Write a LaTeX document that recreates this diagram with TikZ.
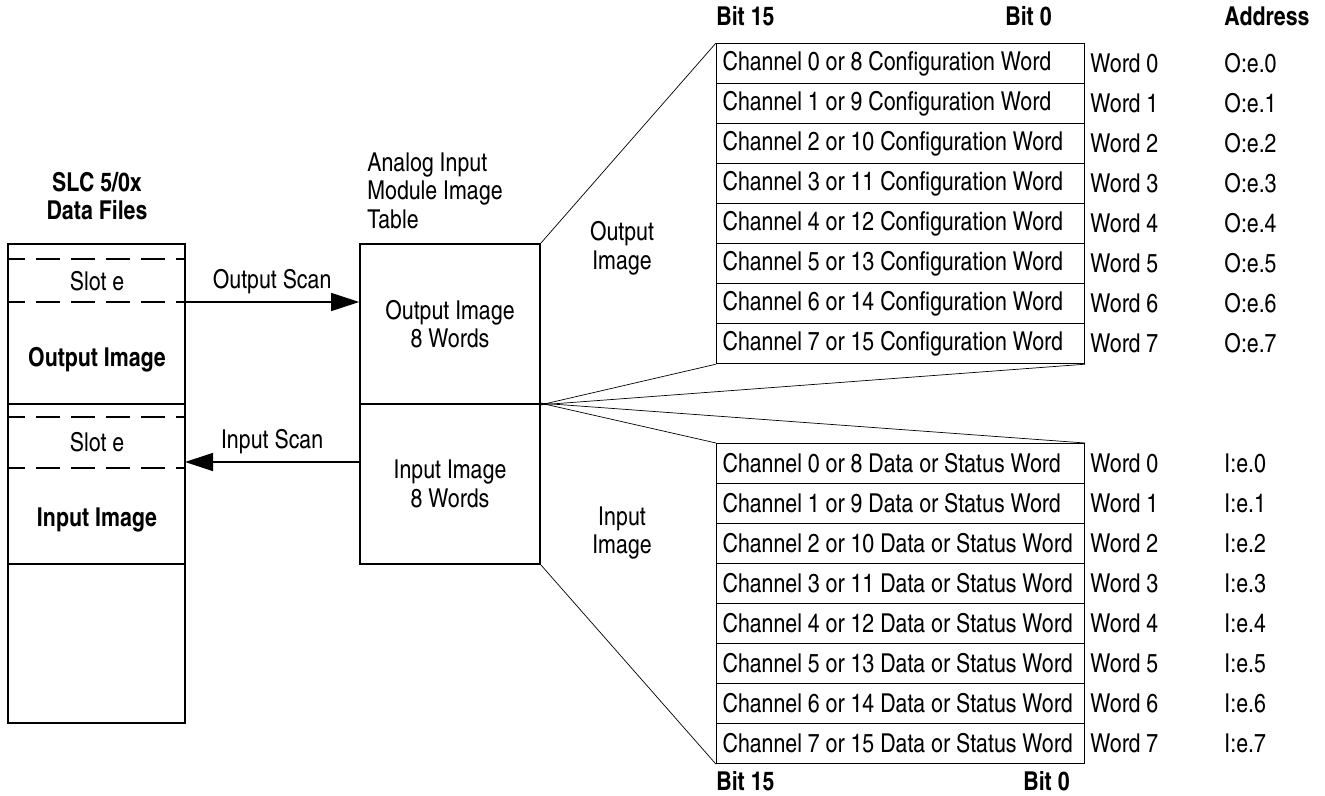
\documentclass[tikz,border=0pt]{standalone}
\usepackage{fontspec}
\setmainfont{texgyreheroscn}[Extension=.otf, UprightFont=*-regular, BoldFont=*-bold]
\usetikzlibrary{arrows.meta,positioning}

\begin{document}
\begin{tikzpicture}[x=0.5pt,y=-0.5pt,font=\fontsize{13}{14.3}\selectfont,
    box/.style={line width=0.8pt},
    slotline/.style={line width=0.8pt, dash pattern=on 12pt off 5.5pt, dash phase=3.5pt},
    modbox/.style={draw, line width=0.8pt, minimum width=90pt, minimum height=80pt, align=flush center},
    cell/.style={draw, line width=0.6pt, anchor=north west, inner xsep=3pt, inner ysep=0pt,
      text width=178pt, minimum height=20pt, align=flush left},
    lbl/.style={inner sep=0pt},
    hdr/.style={inner sep=0pt, font=\fontsize{13}{14.3}\selectfont\bfseries},
    scan/.style={line width=0.6pt, -{Triangle[length=14pt,width=9pt]}},
    fan/.style={line width=0.35pt}]
  \useasboundingbox (0,0) rectangle (1325,796);
  % data files
  \node [hdr, align=flush center] (slc) at (97,196) {SLC 5/0x\\Data Files};
  \draw [box] (8,244) rectangle (185,723);
  \draw [slotline] (8,259) -- (185,259);
  \draw [slotline] (8,302) -- (185,302);
  \draw [box] (8,404) -- (185,404);
  \draw [slotline] (8,417) -- (185,417);
  \draw [slotline] (8,468) -- (185,468);
  \draw [box] (8,564) -- (185,564);
  \node [lbl] (slotout) at (97,281) {Slot e};
  \node [hdr] (outdata) at (97,360) {Output Image};
  \node [lbl] (slotin) at (97,442) {Slot e};
  \node [hdr] (indata) at (97,520) {Input Image};
  \coordinate (outport) at (185,302);
  \coordinate (inport) at (185,462);
  % module image table
  \node [lbl, align=flush left, anchor=north west] (aimtable) at (367,152) {Analog Input\\Module Image\\Table};
  \node [modbox] (outimg) at (450,324) {Output Image\\8 Words};
  \node [modbox] (inimg) at (450,484) {Input Image\\8 Words};
  % scans
  \draw [scan] (outport) -- node [lbl, above=4pt] (outscan) {Output Scan} (outport -| outimg.west);
  \draw [scan] (inport -| inimg.west) -- node [lbl, above=4pt] (inscan) {Input Scan} (inport);
  \node [lbl, align=flush center] (outlabel) at (622,248) {Output\\Image};
  \node [lbl, align=flush center] (inlabel) at (622,533) {Input\\Image};
  % output words
  \node [hdr, anchor=base west] (bithi) at (716,26) {Bit 15};
  \node [hdr, anchor=base east] (bitlo) at (1052,26) {Bit 0};
  \node [hdr, anchor=base west] (addr) at (1224,26) {Address};
  \foreach \i [evaluate=\i as \j using int(\i+8)] in {0,...,7} {
    \node [cell] (cfg\i) at (716,43+40*\i) {\mbox{Channel \i\ or \j\ Configuration Word}};
    \node [lbl, anchor=west] (cw\i) at (1090,63+40*\i) {Word \i};
    \node [lbl, anchor=west] (ca\i) at (1224,63+40*\i) {O:e.\i};
  }
  % input words
  \foreach \i [evaluate=\i as \j using int(\i+8)] in {0,...,7} {
    \node [cell] (dat\i) at (716,443+40*\i) {\mbox{Channel \i\ or \j\ Data or Status Word}};
    \node [lbl, anchor=west] (dw\i) at (1090,463+40*\i) {Word \i};
    \node [lbl, anchor=west] (da\i) at (1224,463+40*\i) {I:e.\i};
  }
  \node [hdr, anchor=base west] (bithib) at (716,790) {Bit 15};
  \node [hdr, anchor=base east] (bitlob) at (1070,790) {Bit 0};
  % fan lines
  \draw [fan] (outimg.north east) -- (cfg0.north west);
  \draw [fan] (outimg.south east) -- (cfg7.south west);
  \draw [fan] (outimg.south east) -- (cfg7.south east);
  \draw [fan] (inimg.north east) -- (dat0.north east);
  \draw [fan] (inimg.north east) -- (dat0.north west);
  \draw [fan] (inimg.south east) -- (dat7.south west);
\end{tikzpicture}
\end{document}
